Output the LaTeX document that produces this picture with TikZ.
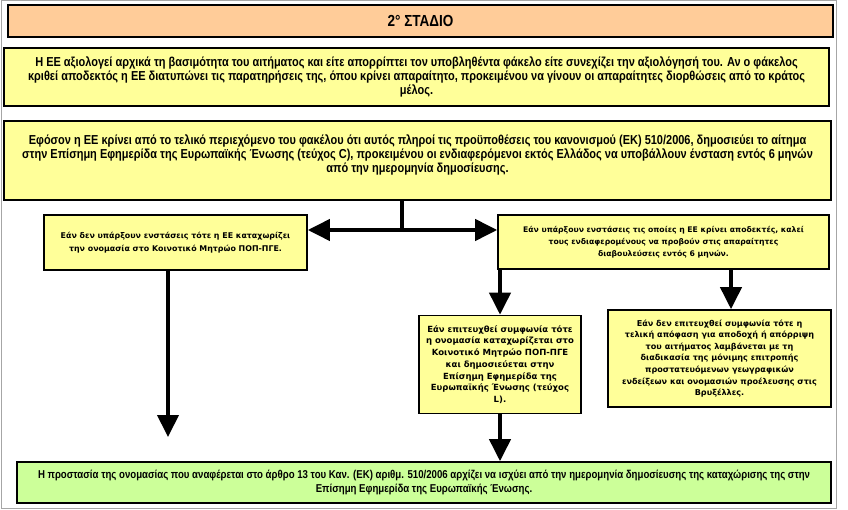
\documentclass[tikz,border=0pt]{standalone}
\usepackage{fontspec}
\setmainfont{Liberation Sans}
\newfontfamily\narrowfont[FakeStretch=0.845]{Liberation Sans}
\newfontfamily\verdfont{DejaVu Sans}
\usetikzlibrary{arrows.meta}
\definecolor{peach}{RGB}{255,204,153}
\definecolor{lyellow}{RGB}{255,255,153}
\definecolor{lgreen}{RGB}{204,255,153}
\tikzset{
  box/.style={draw=black, line width=1.6pt, inner sep=0pt, align=center},
  narrowtext/.style={font=\narrowfont\bfseries\fontsize{13}{14}\selectfont},
  verdtext/.style={font=\verdfont\bfseries\fontsize{8.1}{11.6}\selectfont},
  arr/.style={line width=4pt, -{Triangle[width=21pt,length=22pt]}},
  plainline/.style={line width=4pt},
}
\begin{document}
\begin{tikzpicture}[x=1pt,y=-1pt]
\useasboundingbox (0,0) rectangle (848,510);
\draw[gray!70, line width=0.8pt] (1,0) rectangle (836,508);
% title
\node[box, fill=peach, minimum width=825pt, minimum height=32pt,
  font=\narrowfont\bfseries\fontsize{16}{16}\selectfont] (title) at (420.5,21) {2° ΣΤΑΔΙΟ};
% box 2
\node[box, fill=lyellow, narrowtext, minimum width=825pt, minimum height=58pt] (b2) at (416.5,77)
{Η ΕΕ αξιολογεί αρχικά τη βασιμότητα του αιτήματος και είτε απορρίπτει τον υποβληθέντα φάκελο είτε συνεχίζει την αξιολόγησή του. Αν ο φάκελος\\
κριθεί αποδεκτός η ΕΕ διατυπώνει τις παρατηρήσεις της, όπου κρίνει απαραίτητο, προκειμένου να γίνουν οι απαραίτητες διορθώσεις από το κράτος\\
μέλος.};
% box 3
\node[box, fill=lyellow, narrowtext, minimum width=827pt, minimum height=79pt] (b3) at (417.5,160.5)
{Εφόσον η ΕΕ κρίνει από το τελικό περιεχόμενο του φακέλου ότι αυτός πληροί τις προϋποθέσεις του κανονισμού (ΕΚ) 510/2006, δημοσιεύει το αίτημα\\
στην Επίσημη Εφημερίδα της Ευρωπαϊκής Ένωσης (τεύχος C), προκειμένου οι ενδιαφερόμενοι εκτός Ελλάδος να υποβάλλουν ένσταση εντός 6 μηνών\\
από την ημερομηνία δημοσίευσης.\\[-1pt]\mbox{}};
% left 1
\node[box, fill=lyellow, verdtext, font=\verdfont\bfseries\fontsize{7.9}{13.5}\selectfont,
  minimum width=263pt, minimum height=55pt] (l1) at (175.5,242.5)
{Εάν δεν υπάρξουν ενστάσεις τότε η ΕΕ καταχωρίζει\\
την ονομασία στο Κοινοτικό Μητρώο ΠΟΠ-ΠΓΕ.};
% right 1
\node[box, fill=lyellow, verdtext, font=\verdfont\bfseries\fontsize{7.7}{12}\selectfont,
  minimum width=331pt, minimum height=54pt] (r1) at (663.5,242)
{Εάν υπάρξουν ενστάσεις τις οποίες η ΕΕ κρίνει αποδεκτές, καλεί\\
τους ενδιαφερομένους να προβούν στις απαραίτητες\\
διαβουλεύσεις εντός 6 μηνών.};
% mid 2
\node[box, fill=lyellow, verdtext, font=\verdfont\bfseries\fontsize{8.5}{11.7}\selectfont,
  minimum width=162pt, minimum height=98pt] (m2) at (500,364.5)
{Εάν επιτευχθεί συμφωνία τότε\\
η ονομασία καταχωρίζεται στο\\
Κοινοτικό Μητρώο ΠΟΠ-ΠΓΕ\\
και δημοσιεύεται στην\\
Επίσημη Εφημερίδα της\\
Ευρωπαϊκής Ένωσης (τεύχος\\
L).};
% right 2
\node[box, fill=lyellow, verdtext, minimum width=223pt, minimum height=97pt] (r2) at (719.5,358.5)
{Εάν δεν επιτευχθεί συμφωνία τότε η\\
τελική απόφαση για αποδοχή ή απόρριψη\\
του αιτήματος λαμβάνεται με τη\\
διαδικασία της μόνιμης επιτροπής\\
προστατευόμενων γεωγραφικών\\
ενδείξεων και ονομασιών προέλευσης στις\\
Βρυξέλλες.};
% bottom
\node[box, fill=lgreen, font=\narrowfont\bfseries\fontsize{11.4}{14}\selectfont, minimum width=814pt, minimum height=41pt] (bt) at (424,482.5)
{Η προστασία της ονομασίας που αναφέρεται στο άρθρο 13 του Καν. (ΕΚ) αριθμ. 510/2006 αρχίζει να ισχύει από την ημερομηνία δημοσίευσης της καταχώρισης της στην\\
Επίσημη Εφημερίδα της Ευρωπαϊκής Ένωσης.};
% connectors
\coordinate (j) at (402,230);
\coordinate (la) at (168,437);
\coordinate (rx) at (731,0);
\draw[plainline] (b3.south -| j) -- (j);
\draw[arr] (j) -- (j -| l1.east);
\draw[arr] (j) -- (j -| r1.west);
\draw[arr] (l1.south -| la) -- (la);
\draw[arr] (r1.south -| m2.north) -- (m2.north);
\draw[arr] (r1.south -| rx) -- (r2.north -| rx);
\draw[arr] (m2.south) -- (m2.south |- bt.north);
\end{tikzpicture}
\end{document}
